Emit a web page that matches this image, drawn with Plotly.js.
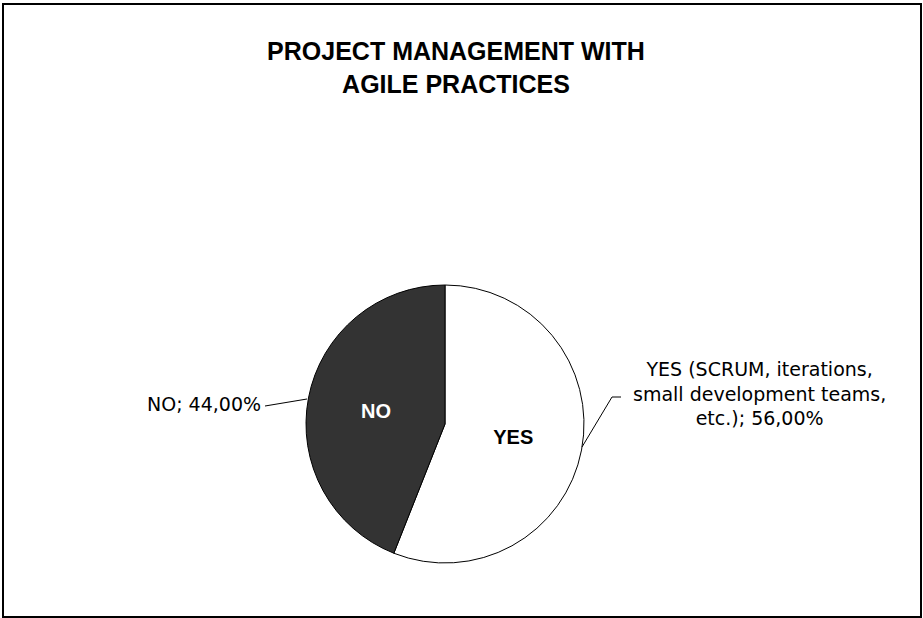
<!DOCTYPE html>
<html>
<head>
<meta charset="utf-8">
<script src="https://cdn.plot.ly/plotly-3.0.1.min.js"></script>
<style>
  body { margin: 0; background: #fff; }
  #chart { width: 923px; height: 618px; }
</style>
</head>
<body>
<div id="chart"></div>
<script>
var W = 923, H = 618;

// data
var labels = ['YES', 'NO'];
var longNames = ['YES (SCRUM, iterations,<br>small development teams,<br>etc.)', 'NO'];
var values = [56, 44];
var colors = ['#ffffff', '#333333'];
var insideColors = ['#000000', '#ffffff'];

function px(x) { return x / W; }
function py(y) { return 1 - y / H; }

function pct(v) {
  var total = values.reduce(function (a, b) { return a + b; }, 0);
  return (v / total * 100).toFixed(2).replace('.', ',') + '%';
}

var trace = {
  type: 'pie',
  labels: labels,
  values: values,
  sort: false,
  direction: 'clockwise',
  rotation: 0,
  marker: { colors: colors, line: { color: '#000000', width: 1 } },
  textinfo: 'label',
  textposition: 'inside',
  insidetextorientation: 'horizontal',
  insidetextfont: { family: 'Liberation Sans, Arial, sans-serif', size: 20, weight: 'bold', color: insideColors },
  domain: { x: [px(306), px(584)], y: [py(563), py(285)] },
  showlegend: false,
  hoverinfo: 'label+percent'
};

var labelFont = { family: 'DejaVu Sans, sans-serif', size: 19, color: '#000000' };

var layout = {
  width: W,
  height: H,
  margin: { l: 0, r: 0, t: 0, b: 0 },
  paper_bgcolor: '#ffffff',
  title: {
    text: 'PROJECT MANAGEMENT WITH<br>AGILE PRACTICES',
    font: { family: 'Liberation Sans, Arial, sans-serif', size: 25, weight: 'bold', color: '#000000' },
    x: px(456), xanchor: 'center',
    y: py(60), yanchor: 'top', yref: 'container'
  },
  annotations: [
    {
      text: longNames[1] + '; ' + pct(values[1]),
      xref: 'paper', yref: 'paper',
      x: px(263), y: py(404), xanchor: 'right', yanchor: 'middle',
      showarrow: false, font: labelFont
    },
    {
      text: longNames[0] + '; ' + pct(values[0]),
      xref: 'paper', yref: 'paper',
      x: px(759), y: py(393), xanchor: 'center', yanchor: 'middle',
      align: 'center', showarrow: false, font: labelFont
    }
  ],
  shapes: [
    // outer frame
    { type: 'rect', xref: 'paper', yref: 'paper', x0: px(3), x1: px(921), y0: py(617), y1: py(4),
      line: { color: '#000000', width: 2 } },
    // leader lines
    { type: 'path', xref: 'paper', yref: 'paper',
      path: 'M ' + px(265) + ',' + py(406) + ' L ' + px(307) + ',' + py(399),
      line: { color: '#000000', width: 1 } },
    { type: 'path', xref: 'paper', yref: 'paper',
      path: 'M ' + px(582) + ',' + py(447) + ' L ' + px(612) + ',' + py(397) + ' L ' + px(621) + ',' + py(397),
      line: { color: '#000000', width: 1 } }
  ]
};

Plotly.newPlot('chart', [trace], layout, { displayModeBar: false, staticPlot: true });
</script>
</body>
</html>
